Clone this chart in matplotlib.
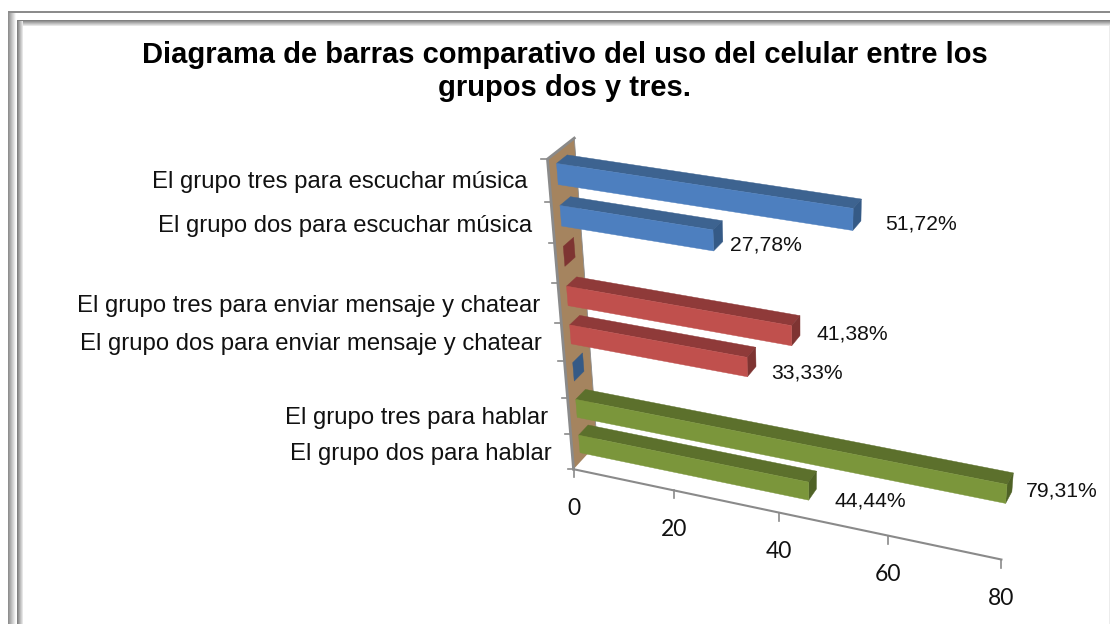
import numpy as np
import matplotlib
matplotlib.use('Agg')
import matplotlib.pyplot as plt
from matplotlib.patches import Polygon, Rectangle

plt.rcParams['font.family'] = ['Liberation Sans', 'DejaVu Sans']

# Data, bottom row first. The two empty rows are zero bars in the original
categories = ['El grupo dos para hablar', 'El grupo tres para hablar', '',
              'El grupo dos para enviar mensaje y chatear', 'El grupo tres para enviar mensaje y chatear', '',
              'El grupo dos para escuchar música', 'El grupo tres para escuchar música']
values = [44.44, 79.31, 0, 33.33, 41.38, 0, 27.78, 51.72]
value_labels = ['44,44%', '79,31%', '', '33,33%', '41,38%', '', '27,78%', '51,72%']
row_colors = ['green', 'green', 'blue', 'red', 'red', 'red', 'blue', 'blue']
value_ticks = [0, 20, 40, 60, 80]
title_lines = ['Diagrama de barras comparativo del uso del celular entre los', 'grupos dos y tres.']

# (front, top, side) shades
palette = {
    'blue': ('#4d7fbf', '#3d6390', '#355a86'),
    'red': ('#c0504d', '#8f3a39', '#7e3432'),
    'green': ('#7b963b', '#5c702c', '#4f6226'),
}
WALL = '#a5845f'
AXIS = '#8a8a8a'

# Where the plot box lands on the canvas: (value, row, depth) -> pixel
anchors = [
    ((0, 0, 0), (574, 468)), ((40, 0, 0), (779, 515)), ((80, 0, 0), (1001, 560)),
    ((0, 4, 0), (561, 322)), ((0, 8, 0), (547, 159)), ((0, 8, 1), (574, 138)),
    ((0, 0, 1), (597, 444)),
    ((79.31, 1.75, 0.3), (1007, 483)), ((79.31, 1.25, 0.3), (1006, 503)),
    ((79.31, 1.75, 0.7), (1013, 473)),
    ((51.72, 7.75, 0.3), (853, 208)), ((51.72, 7.25, 0.3), (853, 231)),
    ((51.72, 7.75, 0.7), (862, 199)),
    ((0, 7.75, 0.3), (557, 164)), ((0, 7.25, 0.3), (558, 185)),
    ((0, 1.75, 0.3), (576, 399)), ((0, 1.25, 0.3), (577, 417)),
]


def fit_camera(pairs):
    rows = []
    for (v, u, d), (px, py) in pairs:
        p = [v / 80, u / 8, d, 1]
        x, y = px / 1000, py / 1000
        rows.append(p + [0, 0, 0, 0] + [-x * c for c in p])
        rows.append([0, 0, 0, 0] + p + [-y * c for c in p])
    return np.linalg.svd(np.array(rows))[2][-1].reshape(3, 4)


camera = fit_camera(anchors)


def project(v, u, d):
    x, y, w = camera @ np.array([v / 80, u / 8, d, 1])
    return x / w * 1000, y / w * 1000


fig = plt.figure(figsize=(11.1, 6.24), dpi=100)
ax = fig.add_axes([0, 0, 1, 1])
ax.set_xlim(0, 1110)
ax.set_ylim(624, 0)
ax.axis('off')

# picture frame, drawn as one pixel strips to get the bevel
for i, g in enumerate(np.linspace(0.56, 0.97, 8)):
    ax.add_patch(Rectangle((8 + i, 12), 1, 612, color=str(g), lw=0))
for i, g in enumerate(np.linspace(0.5, 0.9, 6)):
    ax.add_patch(Rectangle((17 + i, 21), 1, 603, color=str(g), lw=0))
    ax.add_patch(Rectangle((17 + i, 20 + i), 1093, 1, color=str(g), lw=0))
ax.add_patch(Rectangle((8, 11), 1102, 2, color='#8c8c8c', lw=0))
ax.add_patch(Rectangle((1109, 26), 1, 598, color='#ececec', lw=0))

# side wall
wall = [project(0, 0, 0), project(0, 8, 0), project(0, 8, 1), project(0, 0, 1)]
ax.add_patch(Polygon(wall, closed=True, fc=WALL, ec='none', zorder=1))
ax.plot(*zip(wall[0], wall[1], wall[2]), color=AXIS, lw=2, zorder=2)
ax.plot(*zip(wall[2], wall[3]), color=AXIS, lw=0.6, zorder=2)

# axes and ticks
ax.plot(*zip(project(0, 0, 0), project(value_ticks[-1], 0, 0)), color=AXIS, lw=1.5, zorder=2)
for t in value_ticks:
    x, y = project(t, 0, 0)
    ax.plot([x, x], [y, y + 8], color=AXIS, lw=1.2, zorder=2)
    ax.text(x, y + 39, str(t), ha='center', va='center', fontsize=16.5,
            family=['Lato', 'DejaVu Sans'], color='#111111')
for r in range(len(categories) + 1):
    x, y = project(0, r, 0)
    ax.plot([x - 6, x], [y, y], color=AXIS, lw=1.2, zorder=2)

# bars, far rows first
for r in range(len(values) - 1, -1, -1):
    v = values[r]
    front, top, side = palette[row_colors[r]]
    low, high = r + 0.25, r + 0.75
    if v > 0:
        ax.add_patch(Polygon([project(0, high, 0.3), project(v, high, 0.3), project(v, high, 0.7), project(0, high, 0.7)],
                             closed=True, fc=top, ec=top, lw=0.3, zorder=3))
        ax.add_patch(Polygon([project(0, low, 0.3), project(v, low, 0.3), project(v, high, 0.3), project(0, high, 0.3)],
                             closed=True, fc=front, ec=front, lw=0.3, zorder=4))
    ax.add_patch(Polygon([project(v, low, 0.3), project(v, low, 0.7), project(v, high, 0.7), project(v, high, 0.3)],
                         closed=True, fc=side, ec=side, lw=0.3, zorder=3))

# text, bottom row first like the data
category_right = [552, 548, 0, 542, 540, 0, 532, 528]
category_y = [454, 418, 0, 344, 306, 0, 226, 182]
label_x = [870, 1062, 0, 807, 852, 0, 766, 921]
label_y = [501, 491, 0, 373, 334, 0, 245, 224]
for r in range(len(categories)):
    if categories[r]:
        ax.text(category_right[r], category_y[r], categories[r], ha='right', va='center',
                fontsize=17.2, color='#111111')
        ax.text(label_x[r], label_y[r], value_labels[r], ha='center', va='center',
                fontsize=15.2, color='#111111')

ax.text(565, 55, title_lines[0], ha='center', va='center', fontsize=21, fontweight='bold', color='black')
ax.text(565, 88, title_lines[1], ha='center', va='center', fontsize=21, fontweight='bold', color='black')

fig.savefig('out.png', dpi=100)
